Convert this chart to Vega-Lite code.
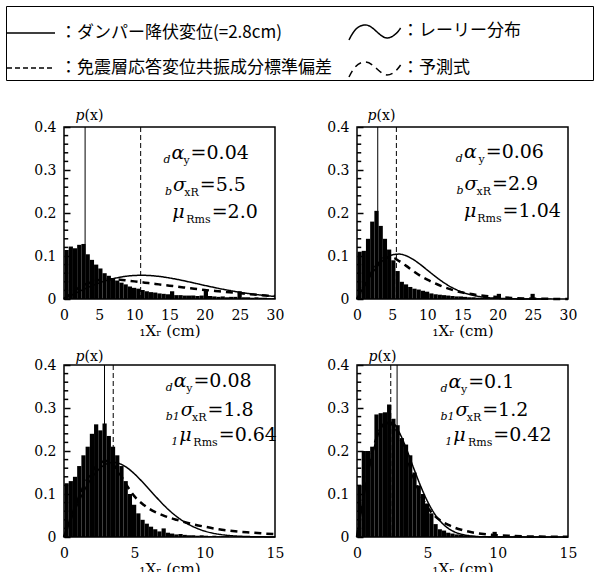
{
  "$schema": "https://vega.github.io/schema/vega-lite/v6.json",
  "padding": {"left": 5, "top": 5, "right": 2, "bottom": 0},
  "background": "white",
  "datasets": {
    "yticks": [
      {"v":0.02},{"v":0.04},{"v":0.06},{"v":0.08},{"v":0.12},{"v":0.14},{"v":0.16},{"v":0.18},
      {"v":0.22},{"v":0.24},{"v":0.26},{"v":0.28},{"v":0.32},{"v":0.34},{"v":0.36},{"v":0.38}
    ],
    "hist": [
      {"p":"TL","x":0,"h":0.114},{"p":"TL","x":0.6,"h":0.122},{"p":"TL","x":1.2,"h":0.118},{"p":"TL","x":1.8,"h":0.126},{"p":"TL","x":2.4,"h":0.128},
      {"p":"TL","x":3.0,"h":0.104},{"p":"TL","x":3.6,"h":0.091},{"p":"TL","x":4.2,"h":0.08},{"p":"TL","x":4.8,"h":0.071},{"p":"TL","x":5.4,"h":0.06},
      {"p":"TL","x":6.0,"h":0.054},{"p":"TL","x":6.6,"h":0.048},{"p":"TL","x":7.2,"h":0.043},{"p":"TL","x":7.8,"h":0.038},{"p":"TL","x":8.4,"h":0.034},
      {"p":"TL","x":9.0,"h":0.029},{"p":"TL","x":9.6,"h":0.026},{"p":"TL","x":10.2,"h":0.024},{"p":"TL","x":10.8,"h":0.021},{"p":"TL","x":11.4,"h":0.018},
      {"p":"TL","x":12.0,"h":0.016},{"p":"TL","x":12.6,"h":0.015},{"p":"TL","x":13.2,"h":0.013},{"p":"TL","x":13.8,"h":0.012},{"p":"TL","x":14.4,"h":0.011},
      {"p":"TL","x":15.0,"h":0.018},{"p":"TL","x":15.6,"h":0.009},{"p":"TL","x":16.2,"h":0.009},{"p":"TL","x":16.8,"h":0.008},{"p":"TL","x":17.4,"h":0.008},
      {"p":"TL","x":18.0,"h":0.008},{"p":"TL","x":18.6,"h":0.007},{"p":"TL","x":19.2,"h":0.008},{"p":"TL","x":19.8,"h":0.02},{"p":"TL","x":20.4,"h":0.007},
      {"p":"TL","x":21.0,"h":0.006},{"p":"TL","x":21.6,"h":0.005},{"p":"TL","x":22.2,"h":0.006},{"p":"TL","x":22.8,"h":0.004},{"p":"TL","x":23.4,"h":0.005},
      {"p":"TL","x":24.0,"h":0.005},{"p":"TL","x":24.6,"h":0.018},{"p":"TL","x":25.2,"h":0.004},{"p":"TL","x":25.8,"h":0.004},{"p":"TL","x":26.4,"h":0.003},
      {"p":"TL","x":27.0,"h":0.004},{"p":"TL","x":27.6,"h":0.003},{"p":"TL","x":28.2,"h":0.003},{"p":"TL","x":28.8,"h":0.002},{"p":"TL","x":29.4,"h":0.002},

      {"p":"TR","x":0,"h":0.11},{"p":"TR","x":0.6,"h":0.112},{"p":"TR","x":1.2,"h":0.14},{"p":"TR","x":1.8,"h":0.18},{"p":"TR","x":2.4,"h":0.205},
      {"p":"TR","x":3.0,"h":0.17},{"p":"TR","x":3.6,"h":0.14},{"p":"TR","x":4.2,"h":0.115},{"p":"TR","x":4.8,"h":0.09},{"p":"TR","x":5.4,"h":0.065},
      {"p":"TR","x":6.0,"h":0.04},{"p":"TR","x":6.6,"h":0.034},{"p":"TR","x":7.2,"h":0.028},{"p":"TR","x":7.8,"h":0.024},{"p":"TR","x":8.4,"h":0.022},
      {"p":"TR","x":9.0,"h":0.019},{"p":"TR","x":9.6,"h":0.017},{"p":"TR","x":10.2,"h":0.013},{"p":"TR","x":10.8,"h":0.011},{"p":"TR","x":11.4,"h":0.01},
      {"p":"TR","x":12.0,"h":0.009},{"p":"TR","x":12.6,"h":0.008},{"p":"TR","x":13.2,"h":0.007},{"p":"TR","x":13.8,"h":0.006},{"p":"TR","x":14.4,"h":0.006},
      {"p":"TR","x":15.0,"h":0.005},{"p":"TR","x":15.6,"h":0.004},{"p":"TR","x":16.2,"h":0.004},{"p":"TR","x":16.8,"h":0.003},{"p":"TR","x":17.4,"h":0.003},
      {"p":"TR","x":18.0,"h":0.003},{"p":"TR","x":18.6,"h":0.002},{"p":"TR","x":19.2,"h":0.003},{"p":"TR","x":19.8,"h":0.012},{"p":"TR","x":20.4,"h":0.002},
      {"p":"TR","x":21.0,"h":0.002},{"p":"TR","x":21.6,"h":0.002},{"p":"TR","x":22.2,"h":0.001},{"p":"TR","x":22.8,"h":0.002},{"p":"TR","x":23.4,"h":0.001},
      {"p":"TR","x":24.0,"h":0.001},{"p":"TR","x":24.6,"h":0.012},{"p":"TR","x":25.2,"h":0.001},{"p":"TR","x":25.8,"h":0.001},{"p":"TR","x":27.0,"h":0.001},

      {"p":"BL","x":0,"h":0.125},{"p":"BL","x":0.3,"h":0.13},{"p":"BL","x":0.6,"h":0.14},{"p":"BL","x":0.9,"h":0.165},{"p":"BL","x":1.2,"h":0.19},
      {"p":"BL","x":1.5,"h":0.21},{"p":"BL","x":1.8,"h":0.24},{"p":"BL","x":2.1,"h":0.262},{"p":"BL","x":2.4,"h":0.248},{"p":"BL","x":2.7,"h":0.264},
      {"p":"BL","x":3.0,"h":0.235},{"p":"BL","x":3.3,"h":0.21},{"p":"BL","x":3.6,"h":0.19},{"p":"BL","x":3.9,"h":0.165},{"p":"BL","x":4.2,"h":0.13},
      {"p":"BL","x":4.5,"h":0.1},{"p":"BL","x":4.8,"h":0.075},{"p":"BL","x":5.1,"h":0.055},{"p":"BL","x":5.4,"h":0.04},{"p":"BL","x":5.7,"h":0.031},
      {"p":"BL","x":6.0,"h":0.024},{"p":"BL","x":6.3,"h":0.018},{"p":"BL","x":6.6,"h":0.013},{"p":"BL","x":6.9,"h":0.02},{"p":"BL","x":7.2,"h":0.01},
      {"p":"BL","x":7.5,"h":0.008},{"p":"BL","x":7.8,"h":0.006},{"p":"BL","x":8.1,"h":0.007},{"p":"BL","x":8.4,"h":0.005},{"p":"BL","x":8.7,"h":0.004},
      {"p":"BL","x":9.0,"h":0.004},{"p":"BL","x":9.3,"h":0.003},{"p":"BL","x":9.6,"h":0.004},{"p":"BL","x":9.9,"h":0.003},{"p":"BL","x":10.2,"h":0.002},
      {"p":"BL","x":10.5,"h":0.003},{"p":"BL","x":10.8,"h":0.002},{"p":"BL","x":11.1,"h":0.002},{"p":"BL","x":11.4,"h":0.002},{"p":"BL","x":11.7,"h":0.001},
      {"p":"BL","x":12.0,"h":0.002},{"p":"BL","x":12.3,"h":0.001},{"p":"BL","x":12.6,"h":0.001},{"p":"BL","x":12.9,"h":0.001},{"p":"BL","x":13.2,"h":0.001},
      {"p":"BL","x":13.5,"h":0.001},{"p":"BL","x":13.8,"h":0.001},{"p":"BL","x":14.1,"h":0.001},{"p":"BL","x":14.4,"h":0.001},{"p":"BL","x":14.7,"h":0.001},

      {"p":"BR","x":0,"h":0.12},{"p":"BR","x":0.3,"h":0.2},{"p":"BR","x":0.6,"h":0.2},{"p":"BR","x":0.9,"h":0.21},{"p":"BR","x":1.2,"h":0.285},
      {"p":"BR","x":1.5,"h":0.288},{"p":"BR","x":1.8,"h":0.29},{"p":"BR","x":2.1,"h":0.308},{"p":"BR","x":2.4,"h":0.275},{"p":"BR","x":2.7,"h":0.26},
      {"p":"BR","x":3.0,"h":0.23},{"p":"BR","x":3.3,"h":0.215},{"p":"BR","x":3.6,"h":0.19},{"p":"BR","x":3.9,"h":0.15},{"p":"BR","x":4.2,"h":0.12},
      {"p":"BR","x":4.5,"h":0.1},{"p":"BR","x":4.8,"h":0.078},{"p":"BR","x":5.1,"h":0.055},{"p":"BR","x":5.4,"h":0.03},{"p":"BR","x":5.7,"h":0.018},
      {"p":"BR","x":6.0,"h":0.015},{"p":"BR","x":6.3,"h":0.01},{"p":"BR","x":6.6,"h":0.008},{"p":"BR","x":6.9,"h":0.006},{"p":"BR","x":7.2,"h":0.005},
      {"p":"BR","x":7.5,"h":0.004},{"p":"BR","x":7.8,"h":0.003},{"p":"BR","x":8.1,"h":0.003},{"p":"BR","x":8.4,"h":0.002},{"p":"BR","x":8.7,"h":0.002},
      {"p":"BR","x":9.0,"h":0.002},{"p":"BR","x":9.3,"h":0.002},{"p":"BR","x":9.6,"h":0.012},{"p":"BR","x":9.9,"h":0.002},{"p":"BR","x":10.2,"h":0.002},
      {"p":"BR","x":10.5,"h":0.001},{"p":"BR","x":10.8,"h":0.001},{"p":"BR","x":11.1,"h":0.003},{"p":"BR","x":11.4,"h":0.002},{"p":"BR","x":11.7,"h":0.001},
      {"p":"BR","x":12.0,"h":0.001},{"p":"BR","x":12.3,"h":0.001},{"p":"BR","x":12.6,"h":0.001},{"p":"BR","x":12.9,"h":0.001}
    ],
    "curves": [
      {"p":"TL","k":"レーリー分布","x":0,"y":0},{"p":"TL","k":"レーリー分布","x":1,"y":0.0082},{"p":"TL","k":"レーリー分布","x":2,"y":0.0163},{"p":"TL","k":"レーリー分布","x":3,"y":0.0239},
      {"p":"TL","k":"レーリー分布","x":4,"y":0.031},{"p":"TL","k":"レーリー分布","x":5,"y":0.0373},{"p":"TL","k":"レーリー分布","x":6,"y":0.0427},{"p":"TL","k":"レーリー分布","x":7,"y":0.0472},
      {"p":"TL","k":"レーリー分布","x":8,"y":0.0508},{"p":"TL","k":"レーリー分布","x":9,"y":0.0532},{"p":"TL","k":"レーリー分布","x":10,"y":0.0547},{"p":"TL","k":"レーリー分布","x":11,"y":0.0551},
      {"p":"TL","k":"レーリー分布","x":12,"y":0.0547},{"p":"TL","k":"レーリー分布","x":13,"y":0.0534},{"p":"TL","k":"レーリー分布","x":14,"y":0.0515},{"p":"TL","k":"レーリー分布","x":15,"y":0.0489},
      {"p":"TL","k":"レーリー分布","x":16,"y":0.0459},{"p":"TL","k":"レーリー分布","x":17,"y":0.0426},{"p":"TL","k":"レーリー分布","x":18,"y":0.039},{"p":"TL","k":"レーリー分布","x":19,"y":0.0353},
      {"p":"TL","k":"レーリー分布","x":20,"y":0.0316},{"p":"TL","k":"レーリー分布","x":21,"y":0.0281},{"p":"TL","k":"レーリー分布","x":22,"y":0.0246},{"p":"TL","k":"レーリー分布","x":23,"y":0.0214},
      {"p":"TL","k":"レーリー分布","x":24,"y":0.0184},{"p":"TL","k":"レーリー分布","x":25,"y":0.0156},{"p":"TL","k":"レーリー分布","x":26,"y":0.0132},{"p":"TL","k":"レーリー分布","x":27,"y":0.011},
      {"p":"TL","k":"レーリー分布","x":28,"y":0.0091},{"p":"TL","k":"レーリー分布","x":29,"y":0.0074},{"p":"TL","k":"レーリー分布","x":30,"y":0.006},

      {"p":"TL","k":"予測式","x":0,"y":0},{"p":"TL","k":"予測式","x":1,"y":0.013},{"p":"TL","k":"予測式","x":2,"y":0.025},{"p":"TL","k":"予測式","x":3,"y":0.034},
      {"p":"TL","k":"予測式","x":4,"y":0.04},{"p":"TL","k":"予測式","x":5,"y":0.044},{"p":"TL","k":"予測式","x":6,"y":0.046},{"p":"TL","k":"予測式","x":7,"y":0.046},
      {"p":"TL","k":"予測式","x":8,"y":0.045},{"p":"TL","k":"予測式","x":9,"y":0.043},{"p":"TL","k":"予測式","x":10,"y":0.041},{"p":"TL","k":"予測式","x":11,"y":0.039},
      {"p":"TL","k":"予測式","x":12,"y":0.037},{"p":"TL","k":"予測式","x":13,"y":0.035},{"p":"TL","k":"予測式","x":14,"y":0.033},{"p":"TL","k":"予測式","x":15,"y":0.031},
      {"p":"TL","k":"予測式","x":16,"y":0.029},{"p":"TL","k":"予測式","x":17,"y":0.027},{"p":"TL","k":"予測式","x":18,"y":0.025},{"p":"TL","k":"予測式","x":19,"y":0.023},
      {"p":"TL","k":"予測式","x":20,"y":0.021},{"p":"TL","k":"予測式","x":21,"y":0.0195},{"p":"TL","k":"予測式","x":22,"y":0.018},{"p":"TL","k":"予測式","x":23,"y":0.0165},
      {"p":"TL","k":"予測式","x":24,"y":0.015},{"p":"TL","k":"予測式","x":25,"y":0.0135},{"p":"TL","k":"予測式","x":26,"y":0.012},{"p":"TL","k":"予測式","x":27,"y":0.0105},
      {"p":"TL","k":"予測式","x":28,"y":0.009},{"p":"TL","k":"予測式","x":29,"y":0.0078},{"p":"TL","k":"予測式","x":30,"y":0.0067},

      {"p":"TR","k":"レーリー分布","x":0,"y":0},{"p":"TR","k":"レーリー分布","x":1,"y":0.0293},{"p":"TR","k":"レーリー分布","x":2,"y":0.056},{"p":"TR","k":"レーリー分布","x":3,"y":0.078},
      {"p":"TR","k":"レーリー分布","x":4,"y":0.0937},{"p":"TR","k":"レーリー分布","x":5,"y":0.1025},{"p":"TR","k":"レーリー分布","x":6,"y":0.1044},{"p":"TR","k":"レーリー分布","x":7,"y":0.1005},
      {"p":"TR","k":"レーリー分布","x":8,"y":0.0919},{"p":"TR","k":"レーリー分布","x":9,"y":0.0803},{"p":"TR","k":"レーリー分布","x":10,"y":0.0673},{"p":"TR","k":"レーリー分布","x":11,"y":0.0542},
      {"p":"TR","k":"レーリー分布","x":12,"y":0.042},{"p":"TR","k":"レーリー分布","x":13,"y":0.0313},{"p":"TR","k":"レーリー分布","x":14,"y":0.0226},{"p":"TR","k":"レーリー分布","x":15,"y":0.0157},
      {"p":"TR","k":"レーリー分布","x":16,"y":0.0106},{"p":"TR","k":"レーリー分布","x":17,"y":0.0069},{"p":"TR","k":"レーリー分布","x":18,"y":0.0043},{"p":"TR","k":"レーリー分布","x":19,"y":0.0026},
      {"p":"TR","k":"レーリー分布","x":20,"y":0.0016},{"p":"TR","k":"レーリー分布","x":22,"y":0.0005},{"p":"TR","k":"レーリー分布","x":24,"y":0.0001},{"p":"TR","k":"レーリー分布","x":27,"y":0},

      {"p":"TR","k":"予測式","x":0,"y":0},{"p":"TR","k":"予測式","x":1,"y":0.03},{"p":"TR","k":"予測式","x":2,"y":0.06},{"p":"TR","k":"予測式","x":3,"y":0.083},
      {"p":"TR","k":"予測式","x":4,"y":0.096},{"p":"TR","k":"予測式","x":5,"y":0.096},{"p":"TR","k":"予測式","x":6,"y":0.088},{"p":"TR","k":"予測式","x":7,"y":0.077},
      {"p":"TR","k":"予測式","x":8,"y":0.065},{"p":"TR","k":"予測式","x":9,"y":0.054},{"p":"TR","k":"予測式","x":10,"y":0.045},{"p":"TR","k":"予測式","x":11,"y":0.037},
      {"p":"TR","k":"予測式","x":12,"y":0.03},{"p":"TR","k":"予測式","x":13,"y":0.024},{"p":"TR","k":"予測式","x":14,"y":0.019},{"p":"TR","k":"予測式","x":15,"y":0.015},
      {"p":"TR","k":"予測式","x":16,"y":0.012},{"p":"TR","k":"予測式","x":17,"y":0.0095},{"p":"TR","k":"予測式","x":18,"y":0.0075},{"p":"TR","k":"予測式","x":19,"y":0.006},
      {"p":"TR","k":"予測式","x":20,"y":0.0045},{"p":"TR","k":"予測式","x":22,"y":0.0025},{"p":"TR","k":"予測式","x":24,"y":0.0013},{"p":"TR","k":"予測式","x":26,"y":0.0006},
      {"p":"TR","k":"予測式","x":28,"y":0.0002},{"p":"TR","k":"予測式","x":30,"y":0},

      {"p":"BL","k":"レーリー分布","x":0,"y":0},{"p":"BL","k":"レーリー分布","x":0.5,"y":0.0404},{"p":"BL","k":"レーリー分布","x":1,"y":0.0784},{"p":"BL","k":"レーリー分布","x":1.5,"y":0.1117},
      {"p":"BL","k":"レーリー分布","x":2,"y":0.1387},{"p":"BL","k":"レーリー分布","x":2.5,"y":0.1581},{"p":"BL","k":"レーリー分布","x":3,"y":0.1696},{"p":"BL","k":"レーリー分布","x":3.5,"y":0.1733},
      {"p":"BL","k":"レーリー分布","x":4,"y":0.17},{"p":"BL","k":"レーリー分布","x":4.5,"y":0.1607},{"p":"BL","k":"レーリー分布","x":5,"y":0.1471},{"p":"BL","k":"レーリー分布","x":5.5,"y":0.1307},
      {"p":"BL","k":"レーリー分布","x":6,"y":0.1129},{"p":"BL","k":"レーリー分布","x":6.5,"y":0.0948},{"p":"BL","k":"レーリー分布","x":7,"y":0.0773},{"p":"BL","k":"レーリー分布","x":7.5,"y":0.0615},
      {"p":"BL","k":"レーリー分布","x":8,"y":0.0478},{"p":"BL","k":"レーリー分布","x":8.5,"y":0.0363},{"p":"BL","k":"レーリー分布","x":9,"y":0.0269},{"p":"BL","k":"レーリー分布","x":9.5,"y":0.0195},
      {"p":"BL","k":"レーリー分布","x":10,"y":0.0137},{"p":"BL","k":"レーリー分布","x":11,"y":0.0064},{"p":"BL","k":"レーリー分布","x":12,"y":0.0027},{"p":"BL","k":"レーリー分布","x":13,"y":0.0011},
      {"p":"BL","k":"レーリー分布","x":14,"y":0.0004},{"p":"BL","k":"レーリー分布","x":15,"y":0.0001},

      {"p":"BL","k":"予測式","x":0,"y":0},{"p":"BL","k":"予測式","x":0.5,"y":0.045},{"p":"BL","k":"予測式","x":1,"y":0.088},{"p":"BL","k":"予測式","x":1.5,"y":0.125},
      {"p":"BL","k":"予測式","x":2,"y":0.153},{"p":"BL","k":"予測式","x":2.5,"y":0.171},{"p":"BL","k":"予測式","x":3,"y":0.177},{"p":"BL","k":"予測式","x":3.5,"y":0.168},
      {"p":"BL","k":"予測式","x":4,"y":0.145},{"p":"BL","k":"予測式","x":4.5,"y":0.118},{"p":"BL","k":"予測式","x":5,"y":0.095},{"p":"BL","k":"予測式","x":5.5,"y":0.079},
      {"p":"BL","k":"予測式","x":6,"y":0.067},{"p":"BL","k":"予測式","x":6.5,"y":0.058},{"p":"BL","k":"予測式","x":7,"y":0.051},{"p":"BL","k":"予測式","x":7.5,"y":0.045},
      {"p":"BL","k":"予測式","x":8,"y":0.04},{"p":"BL","k":"予測式","x":9,"y":0.031},{"p":"BL","k":"予測式","x":10,"y":0.024},{"p":"BL","k":"予測式","x":11,"y":0.018},
      {"p":"BL","k":"予測式","x":12,"y":0.014},{"p":"BL","k":"予測式","x":13,"y":0.011},{"p":"BL","k":"予測式","x":14,"y":0.0085},{"p":"BL","k":"予測式","x":15,"y":0.0065},

      {"p":"BR","k":"レーリー分布","x":0,"y":0},{"p":"BR","k":"レーリー分布","x":0.5,"y":0.0964},{"p":"BR","k":"レーリー分布","x":1,"y":0.179},{"p":"BR","k":"レーリー分布","x":1.5,"y":0.2372},
      {"p":"BR","k":"レーリー分布","x":2,"y":0.2661},{"p":"BR","k":"レーリー分布","x":2.5,"y":0.2663},{"p":"BR","k":"レーリー分布","x":3,"y":0.2436},{"p":"BR","k":"レーリー分布","x":3.5,"y":0.2062},
      {"p":"BR","k":"レーリー分布","x":4,"y":0.1625},{"p":"BR","k":"レーリー分布","x":4.5,"y":0.1203},{"p":"BR","k":"レーリー分布","x":5,"y":0.0837},{"p":"BR","k":"レーリー分布","x":5.5,"y":0.0547},
      {"p":"BR","k":"レーリー分布","x":6,"y":0.0338},{"p":"BR","k":"レーリー分布","x":6.5,"y":0.0198},{"p":"BR","k":"レーリー分布","x":7,"y":0.0109},{"p":"BR","k":"レーリー分布","x":7.5,"y":0.0057},
      {"p":"BR","k":"レーリー分布","x":8,"y":0.0029},{"p":"BR","k":"レーリー分布","x":9,"y":0.0005},{"p":"BR","k":"レーリー分布","x":10,"y":0.0001},{"p":"BR","k":"レーリー分布","x":15,"y":0},

      {"p":"BR","k":"予測式","x":0,"y":0},{"p":"BR","k":"予測式","x":0.5,"y":0.1},{"p":"BR","k":"予測式","x":1,"y":0.185},{"p":"BR","k":"予測式","x":1.5,"y":0.24},
      {"p":"BR","k":"予測式","x":2,"y":0.265},{"p":"BR","k":"予測式","x":2.5,"y":0.262},{"p":"BR","k":"予測式","x":3,"y":0.235},{"p":"BR","k":"予測式","x":3.5,"y":0.19},
      {"p":"BR","k":"予測式","x":4,"y":0.14},{"p":"BR","k":"予測式","x":4.5,"y":0.1},{"p":"BR","k":"予測式","x":5,"y":0.07},{"p":"BR","k":"予測式","x":5.5,"y":0.05},
      {"p":"BR","k":"予測式","x":6,"y":0.037},{"p":"BR","k":"予測式","x":6.5,"y":0.028},{"p":"BR","k":"予測式","x":7,"y":0.021},{"p":"BR","k":"予測式","x":7.5,"y":0.016},
      {"p":"BR","k":"予測式","x":8,"y":0.012},{"p":"BR","k":"予測式","x":9,"y":0.007},{"p":"BR","k":"予測式","x":10,"y":0.004},{"p":"BR","k":"予測式","x":11,"y":0.0025},
      {"p":"BR","k":"予測式","x":12,"y":0.0015},{"p":"BR","k":"予測式","x":13,"y":0.001},{"p":"BR","k":"予測式","x":14,"y":0.0005},{"p":"BR","k":"予測式","x":15,"y":0.0003}
    ],
    "rules": [
      {"p":"TL","k":"ダンパー降伏変位(=2.8cm)","x":3.0},{"p":"TL","k":"免震層応答変位共振成分標準偏差","x":10.9},
      {"p":"TR","k":"ダンパー降伏変位(=2.8cm)","x":2.95},{"p":"TR","k":"免震層応答変位共振成分標準偏差","x":5.6},
      {"p":"BL","k":"ダンパー降伏変位(=2.8cm)","x":2.88},{"p":"BL","k":"免震層応答変位共振成分標準偏差","x":3.5},
      {"p":"BR","k":"ダンパー降伏変位(=2.8cm)","x":2.85},{"p":"BR","k":"免震層応答変位共振成分標準偏差","x":2.4}
    ],
    "notes": [
      {"p":"TL","pre":"d","g":"α","sub":"y","v":"=0.04","xg":15.3,"xe":18.0,"y":0.326},
      {"p":"TL","pre":"b","g":"σ","sub":"xR","v":"=5.5","xg":15.5,"xe":19.3,"y":0.251},
      {"p":"TL","pre":"","g":"μ","sub":"Rms","v":"=2.0","xg":15.4,"xe":21.0,"y":0.189},
      {"p":"TR","pre":"d","g":"α","sub":"y","v":"=0.06","xg":15.2,"xe":18.3,"y":0.327},
      {"p":"TR","pre":"b","g":"σ","sub":"xR","v":"=2.9","xg":15.3,"xe":19.2,"y":0.253},
      {"p":"TR","pre":"","g":"μ","sub":"Rms","v":"=1.04","xg":15.2,"xe":20.7,"y":0.19},
      {"p":"BL","pre":"d","g":"α","sub":"y","v":"=0.08","xg":7.8,"xe":9.2,"y":0.349},
      {"p":"BL","pre":"b1","g":"σ","sub":"xR","v":"=1.8","xg":8.3,"xe":10.2,"y":0.281},
      {"p":"BL","pre":"1","g":"μ","sub":"Rms","v":"=0.64","xg":8.2,"xe":11.0,"y":0.223},
      {"p":"BR","pre":"d","g":"α","sub":"y","v":"=0.1","xg":6.5,"xe":7.9,"y":0.347},
      {"p":"BR","pre":"b1","g":"σ","sub":"xR","v":"=1.2","xg":7.0,"xe":8.9,"y":0.281},
      {"p":"BR","pre":"1","g":"μ","sub":"Rms","v":"=0.42","xg":6.85,"xe":9.69,"y":0.224}
    ]
  },
  "columns": 2,
  "spacing": {"row": 66, "column": 82},
  "bounds": "flush",
  "concat": [
    {
      "width": 211, "height": 172,
      "layer": [
        {"data": {"name": "hist"}, "transform": [{"filter": "datum.p == 'TL'"}],
         "mark": {"type": "bar", "color": "black", "binSpacing": 0},
         "encoding": {
           "x": {"field": "x", "type": "quantitative", "bin": {"binned": true, "step": 0.6}, "scale": {"domain": [0, 30], "nice": false, "zero": false},
                 "axis": {"values": [0,5,10,15,20,25,30], "format": "d", "ticks": false, "labelPadding": 9, "labelFlush": false, "labelOverlap": false, "title": "₁Xᵣ (cm)", "titlePadding": 1, "titleFontSize": 15}},
           "y": {"field": "h", "type": "quantitative", "scale": {"domain": [0, 0.4], "nice": false},
                 "axis": {"values": [0,0.1,0.2,0.3,0.4], "format": ".1f", "labelExpr": "datum.value == 0 ? '0' : datum.label",
                          "labelOverlap": false, "labelFlush": false, "offset": -6, "tickSize": 6, "tickWidth": 1.5, "tickColor": "black", "labelPadding": 8,
                          "title": "𝑝(x)", "titleAngle": 0, "titleAlign": "center", "titleBaseline": "alphabetic", "titleX": 19, "titleY": -8, "titleFontSize": 14}}
         }},
        {"data": {"name": "yticks"}, "mark": {"type": "rule", "color": "black", "strokeWidth": 1.5},
         "encoding": {"x": {"datum": 0, "type": "quantitative"}, "x2": {"datum": 0.6}, "y": {"field": "v", "type": "quantitative"}}},
        {"data": {"name": "curves"}, "transform": [{"filter": "datum.p == 'TL' && datum.k == 'レーリー分布'"}],
         "mark": {"type": "line", "color": "black", "strokeWidth": 1.5, "interpolate": "monotone"},
         "encoding": {"x": {"field": "x", "type": "quantitative"}, "y": {"field": "y", "type": "quantitative"},
           "strokeDash": {"field": "k", "type": "nominal", "scale": {"domain": ["ダンパー降伏変位(=2.8cm)", "レーリー分布", "免震層応答変位共振成分標準偏差", "予測式"], "range": [[1,0],[1,0],[5,3],[7,5]]}}}},
        {"data": {"name": "curves"}, "transform": [{"filter": "datum.p == 'TL' && datum.k == '予測式'"}],
         "mark": {"type": "line", "color": "black", "strokeWidth": 2.5, "interpolate": "monotone"},
         "encoding": {"x": {"field": "x", "type": "quantitative"}, "y": {"field": "y", "type": "quantitative"},
           "strokeDash": {"field": "k", "type": "nominal"}}},
        {"data": {"name": "rules"}, "transform": [{"filter": "datum.p == 'TL'"}],
         "mark": {"type": "rule", "color": "black", "strokeWidth": 1},
         "encoding": {"x": {"field": "x", "type": "quantitative"},
           "strokeDash": {"field": "k", "type": "nominal",
             "legend": {"title": null, "orient": "none", "legendX": -58, "legendY": -121, "direction": "horizontal", "columns": 2, "columnPadding": 14, "rowPadding": -10,
                        "padding": 0, "strokeColor": "black", "labelFont": "Noto Sans CJK JP", "labelFontSize": 17, "labelColor": "black", "labelLimit": 700, "labelOffset": 4,
                        "symbolSize": 2304, "symbolStrokeWidth": 1.5, "symbolStrokeColor": "black", "symbolFillColor": "transparent",
                        "labelExpr": "'：' + datum.label + (length(datum.label) == 6 ? '　　　　\u2009\u200b' : '')",
                        "encode": {"symbols": {"update": {"shape": {"signal": "(datum.value == 'レーリー分布' || datum.value == '予測式') ? 'M-1,0.375 C-0.8,-0.05 -0.6,-0.25 -0.31,-0.25 C0.0,-0.25 0.3,0.29 0.58,0.29 C0.8,0.29 1.0,0.1 1.15,-0.125' : 'M-1,0 L1,0'"}, "fill": {"value": "transparent"}, "stroke": {"value": "black"}}}}}}}},
        {"data": {"name": "notes"}, "transform": [{"filter": "datum.p == 'TL'"}],
         "mark": {"type": "text", "align": "right", "baseline": "alphabetic", "fontSize": 11, "fontStyle": "italic", "dx": -1, "dy": 4},
         "encoding": {"x": {"field": "xg", "type": "quantitative"}, "y": {"field": "y", "type": "quantitative"}, "text": {"field": "pre"}}},
        {"data": {"name": "notes"}, "transform": [{"filter": "datum.p == 'TL'"}],
         "mark": {"type": "text", "align": "left", "baseline": "alphabetic", "fontSize": 19, "fontStyle": "italic"},
         "encoding": {"x": {"field": "xg", "type": "quantitative"}, "y": {"field": "y", "type": "quantitative"}, "text": {"field": "g"}}},
        {"data": {"name": "notes"}, "transform": [{"filter": "datum.p == 'TL'"}],
         "mark": {"type": "text", "align": "right", "baseline": "alphabetic", "fontSize": 11, "dx": -1, "dy": 5},
         "encoding": {"x": {"field": "xe", "type": "quantitative"}, "y": {"field": "y", "type": "quantitative"}, "text": {"field": "sub"}}},
        {"data": {"name": "notes"}, "transform": [{"filter": "datum.p == 'TL'"}],
         "mark": {"type": "text", "align": "left", "baseline": "alphabetic", "fontSize": 19},
         "encoding": {"x": {"field": "xe", "type": "quantitative"}, "y": {"field": "y", "type": "quantitative"}, "text": {"field": "v"}}}
      ]
    },
    {
      "width": 211, "height": 172,
      "layer": [
        {"data": {"name": "hist"}, "transform": [{"filter": "datum.p == 'TR'"}],
         "mark": {"type": "bar", "color": "black", "binSpacing": 0},
         "encoding": {
           "x": {"field": "x", "type": "quantitative", "bin": {"binned": true, "step": 0.6}, "scale": {"domain": [0, 30], "nice": false, "zero": false},
                 "axis": {"values": [0,5,10,15,20,25,30], "format": "d", "ticks": false, "labelPadding": 9, "labelFlush": false, "labelOverlap": false, "title": "₁Xᵣ (cm)", "titlePadding": 1, "titleFontSize": 15}},
           "y": {"field": "h", "type": "quantitative", "scale": {"domain": [0, 0.4], "nice": false},
                 "axis": {"values": [0,0.1,0.2,0.3,0.4], "format": ".1f", "labelExpr": "datum.value == 0 ? '0' : datum.label",
                          "labelOverlap": false, "labelFlush": false, "offset": -6, "tickSize": 6, "tickWidth": 1.5, "tickColor": "black", "labelPadding": 8,
                          "title": "𝑝(x)", "titleAngle": 0, "titleAlign": "center", "titleBaseline": "alphabetic", "titleX": 18, "titleY": -8, "titleFontSize": 14}}
         }},
        {"data": {"name": "yticks"}, "mark": {"type": "rule", "color": "black", "strokeWidth": 1.5},
         "encoding": {"x": {"datum": 0, "type": "quantitative"}, "x2": {"datum": 0.6}, "y": {"field": "v", "type": "quantitative"}}},
        {"data": {"name": "curves"}, "transform": [{"filter": "datum.p == 'TR' && datum.k == 'レーリー分布'"}],
         "mark": {"type": "line", "color": "black", "strokeWidth": 1.5, "interpolate": "monotone"},
         "encoding": {"x": {"field": "x", "type": "quantitative"}, "y": {"field": "y", "type": "quantitative"},
           "strokeDash": {"field": "k", "type": "nominal"}}},
        {"data": {"name": "curves"}, "transform": [{"filter": "datum.p == 'TR' && datum.k == '予測式'"}],
         "mark": {"type": "line", "color": "black", "strokeWidth": 2.5, "interpolate": "monotone"},
         "encoding": {"x": {"field": "x", "type": "quantitative"}, "y": {"field": "y", "type": "quantitative"},
           "strokeDash": {"field": "k", "type": "nominal"}}},
        {"data": {"name": "rules"}, "transform": [{"filter": "datum.p == 'TR'"}],
         "mark": {"type": "rule", "color": "black", "strokeWidth": 1},
         "encoding": {"x": {"field": "x", "type": "quantitative"}, "strokeDash": {"field": "k", "type": "nominal"}}},
        {"data": {"name": "notes"}, "transform": [{"filter": "datum.p == 'TR'"}],
         "mark": {"type": "text", "align": "right", "baseline": "alphabetic", "fontSize": 11, "fontStyle": "italic", "dx": -1, "dy": 4},
         "encoding": {"x": {"field": "xg", "type": "quantitative"}, "y": {"field": "y", "type": "quantitative"}, "text": {"field": "pre"}}},
        {"data": {"name": "notes"}, "transform": [{"filter": "datum.p == 'TR'"}],
         "mark": {"type": "text", "align": "left", "baseline": "alphabetic", "fontSize": 19, "fontStyle": "italic"},
         "encoding": {"x": {"field": "xg", "type": "quantitative"}, "y": {"field": "y", "type": "quantitative"}, "text": {"field": "g"}}},
        {"data": {"name": "notes"}, "transform": [{"filter": "datum.p == 'TR'"}],
         "mark": {"type": "text", "align": "right", "baseline": "alphabetic", "fontSize": 11, "dx": -1, "dy": 5},
         "encoding": {"x": {"field": "xe", "type": "quantitative"}, "y": {"field": "y", "type": "quantitative"}, "text": {"field": "sub"}}},
        {"data": {"name": "notes"}, "transform": [{"filter": "datum.p == 'TR'"}],
         "mark": {"type": "text", "align": "left", "baseline": "alphabetic", "fontSize": 19},
         "encoding": {"x": {"field": "xe", "type": "quantitative"}, "y": {"field": "y", "type": "quantitative"}, "text": {"field": "v"}}}
      ]
    },
    {
      "width": 211, "height": 172,
      "layer": [
        {"data": {"name": "hist"}, "transform": [{"filter": "datum.p == 'BL'"}],
         "mark": {"type": "bar", "color": "black", "binSpacing": 0},
         "encoding": {
           "x": {"field": "x", "type": "quantitative", "bin": {"binned": true, "step": 0.3}, "scale": {"domain": [0, 15], "nice": false, "zero": false},
                 "axis": {"values": [0,5,10,15], "format": "d", "ticks": false, "labelPadding": 9, "labelFlush": false, "labelOverlap": false, "title": "₁Xᵣ (cm)", "titlePadding": 1, "titleFontSize": 15}},
           "y": {"field": "h", "type": "quantitative", "scale": {"domain": [0, 0.4], "nice": false},
                 "axis": {"values": [0,0.1,0.2,0.3,0.4], "format": ".1f", "labelExpr": "datum.value == 0 ? '0' : datum.label",
                          "labelOverlap": false, "labelFlush": false, "offset": -6, "tickSize": 6, "tickWidth": 1.5, "tickColor": "black", "labelPadding": 8,
                          "title": "𝑝(x)", "titleAngle": 0, "titleAlign": "center", "titleBaseline": "alphabetic", "titleX": 19, "titleY": -5, "titleFontSize": 14}}
         }},
        {"data": {"name": "yticks"}, "mark": {"type": "rule", "color": "black", "strokeWidth": 1.5},
         "encoding": {"x": {"datum": 0, "type": "quantitative"}, "x2": {"datum": 0.3}, "y": {"field": "v", "type": "quantitative"}}},
        {"data": {"name": "curves"}, "transform": [{"filter": "datum.p == 'BL' && datum.k == 'レーリー分布'"}],
         "mark": {"type": "line", "color": "black", "strokeWidth": 1.5, "interpolate": "monotone"},
         "encoding": {"x": {"field": "x", "type": "quantitative"}, "y": {"field": "y", "type": "quantitative"},
           "strokeDash": {"field": "k", "type": "nominal"}}},
        {"data": {"name": "curves"}, "transform": [{"filter": "datum.p == 'BL' && datum.k == '予測式'"}],
         "mark": {"type": "line", "color": "black", "strokeWidth": 2.5, "interpolate": "monotone"},
         "encoding": {"x": {"field": "x", "type": "quantitative"}, "y": {"field": "y", "type": "quantitative"},
           "strokeDash": {"field": "k", "type": "nominal"}}},
        {"data": {"name": "rules"}, "transform": [{"filter": "datum.p == 'BL'"}],
         "mark": {"type": "rule", "color": "black", "strokeWidth": 1},
         "encoding": {"x": {"field": "x", "type": "quantitative"}, "strokeDash": {"field": "k", "type": "nominal"}}},
        {"data": {"name": "notes"}, "transform": [{"filter": "datum.p == 'BL'"}],
         "mark": {"type": "text", "align": "right", "baseline": "alphabetic", "fontSize": 11, "fontStyle": "italic", "dx": -1, "dy": 4},
         "encoding": {"x": {"field": "xg", "type": "quantitative"}, "y": {"field": "y", "type": "quantitative"}, "text": {"field": "pre"}}},
        {"data": {"name": "notes"}, "transform": [{"filter": "datum.p == 'BL'"}],
         "mark": {"type": "text", "align": "left", "baseline": "alphabetic", "fontSize": 19, "fontStyle": "italic"},
         "encoding": {"x": {"field": "xg", "type": "quantitative"}, "y": {"field": "y", "type": "quantitative"}, "text": {"field": "g"}}},
        {"data": {"name": "notes"}, "transform": [{"filter": "datum.p == 'BL'"}],
         "mark": {"type": "text", "align": "right", "baseline": "alphabetic", "fontSize": 11, "dx": -1, "dy": 5},
         "encoding": {"x": {"field": "xe", "type": "quantitative"}, "y": {"field": "y", "type": "quantitative"}, "text": {"field": "sub"}}},
        {"data": {"name": "notes"}, "transform": [{"filter": "datum.p == 'BL'"}],
         "mark": {"type": "text", "align": "left", "baseline": "alphabetic", "fontSize": 19},
         "encoding": {"x": {"field": "xe", "type": "quantitative"}, "y": {"field": "y", "type": "quantitative"}, "text": {"field": "v"}}}
      ]
    },
    {
      "width": 211, "height": 172,
      "layer": [
        {"data": {"name": "hist"}, "transform": [{"filter": "datum.p == 'BR'"}],
         "mark": {"type": "bar", "color": "black", "binSpacing": 0},
         "encoding": {
           "x": {"field": "x", "type": "quantitative", "bin": {"binned": true, "step": 0.3}, "scale": {"domain": [0, 15], "nice": false, "zero": false},
                 "axis": {"values": [0,5,10,15], "format": "d", "ticks": false, "labelPadding": 9, "labelFlush": false, "labelOverlap": false, "title": "₁Xᵣ (cm)", "titlePadding": 1, "titleFontSize": 15}},
           "y": {"field": "h", "type": "quantitative", "scale": {"domain": [0, 0.4], "nice": false},
                 "axis": {"values": [0,0.1,0.2,0.3,0.4], "format": ".1f", "labelExpr": "datum.value == 0 ? '0' : datum.label",
                          "labelOverlap": false, "labelFlush": false, "offset": -6, "tickSize": 6, "tickWidth": 1.5, "tickColor": "black", "labelPadding": 8,
                          "title": "𝑝(x)", "titleAngle": 0, "titleAlign": "center", "titleBaseline": "alphabetic", "titleX": 19, "titleY": -5, "titleFontSize": 14}}
         }},
        {"data": {"name": "yticks"}, "mark": {"type": "rule", "color": "black", "strokeWidth": 1.5},
         "encoding": {"x": {"datum": 0, "type": "quantitative"}, "x2": {"datum": 0.3}, "y": {"field": "v", "type": "quantitative"}}},
        {"data": {"name": "curves"}, "transform": [{"filter": "datum.p == 'BR' && datum.k == 'レーリー分布'"}],
         "mark": {"type": "line", "color": "black", "strokeWidth": 1.5, "interpolate": "monotone"},
         "encoding": {"x": {"field": "x", "type": "quantitative"}, "y": {"field": "y", "type": "quantitative"},
           "strokeDash": {"field": "k", "type": "nominal"}}},
        {"data": {"name": "curves"}, "transform": [{"filter": "datum.p == 'BR' && datum.k == '予測式'"}],
         "mark": {"type": "line", "color": "black", "strokeWidth": 2.5, "interpolate": "monotone"},
         "encoding": {"x": {"field": "x", "type": "quantitative"}, "y": {"field": "y", "type": "quantitative"},
           "strokeDash": {"field": "k", "type": "nominal"}}},
        {"data": {"name": "rules"}, "transform": [{"filter": "datum.p == 'BR'"}],
         "mark": {"type": "rule", "color": "black", "strokeWidth": 1},
         "encoding": {"x": {"field": "x", "type": "quantitative"}, "strokeDash": {"field": "k", "type": "nominal"}}},
        {"data": {"name": "notes"}, "transform": [{"filter": "datum.p == 'BR'"}],
         "mark": {"type": "text", "align": "right", "baseline": "alphabetic", "fontSize": 11, "fontStyle": "italic", "dx": -1, "dy": 4},
         "encoding": {"x": {"field": "xg", "type": "quantitative"}, "y": {"field": "y", "type": "quantitative"}, "text": {"field": "pre"}}},
        {"data": {"name": "notes"}, "transform": [{"filter": "datum.p == 'BR'"}],
         "mark": {"type": "text", "align": "left", "baseline": "alphabetic", "fontSize": 19, "fontStyle": "italic"},
         "encoding": {"x": {"field": "xg", "type": "quantitative"}, "y": {"field": "y", "type": "quantitative"}, "text": {"field": "g"}}},
        {"data": {"name": "notes"}, "transform": [{"filter": "datum.p == 'BR'"}],
         "mark": {"type": "text", "align": "right", "baseline": "alphabetic", "fontSize": 11, "dx": -1, "dy": 5},
         "encoding": {"x": {"field": "xe", "type": "quantitative"}, "y": {"field": "y", "type": "quantitative"}, "text": {"field": "sub"}}},
        {"data": {"name": "notes"}, "transform": [{"filter": "datum.p == 'BR'"}],
         "mark": {"type": "text", "align": "left", "baseline": "alphabetic", "fontSize": 19},
         "encoding": {"x": {"field": "xe", "type": "quantitative"}, "y": {"field": "y", "type": "quantitative"}, "text": {"field": "v"}}}
      ]
    }
  ],
  "config": {
    "view": {"stroke": "black", "strokeWidth": 1.5},
    "axis": {"domain": false, "grid": false, "labelFont": "DejaVu Serif", "labelFontSize": 14, "labelColor": "black", "titleFont": "DejaVu Serif", "titleFontWeight": "normal", "titleColor": "black"},
    "text": {"font": "DejaVu Serif", "color": "black"}
  }
}
